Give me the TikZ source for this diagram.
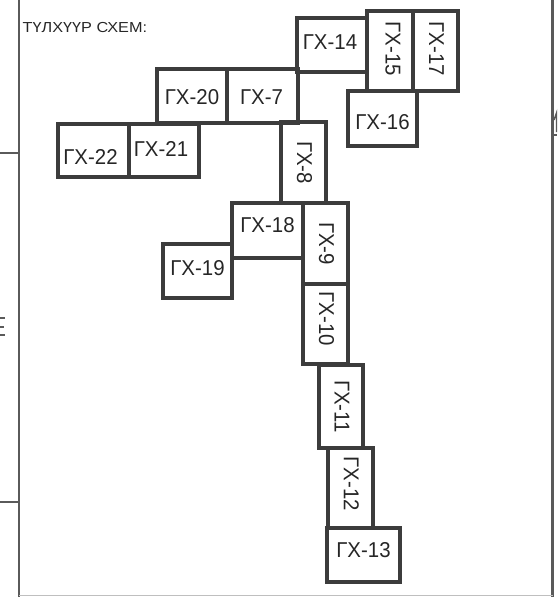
\documentclass[tikz,border=0pt]{standalone}
\usepackage{fontspec}
\setmainfont{Liberation Sans}
\newfontfamily\cadfont[FakeStretch=0.95]{Liberation Sans}
\newfontfamily\titlefont[FakeStretch=1.12]{Liberation Sans}
\definecolor{boxc}{HTML}{3C3C3C}
\definecolor{framec}{HTML}{5A5A5A}
\definecolor{textc}{HTML}{262626}
\begin{document}
\begin{tikzpicture}[x=1pt,y=-1pt,
  gbox/.style={draw=boxc, line width=3.3pt, rectangle, inner sep=0pt, outer sep=0pt},
  lab/.style={inner sep=0pt, text=textc, font=\cadfont\fontsize{21.5}{21.5}\selectfont},
  vlab/.style={lab, rotate=-90},
  framel/.style={draw=framec, line width=2.4pt},
  thinl/.style={draw=framec, line width=1.4pt}]
\useasboundingbox (0,0) rectangle (557,597);
% frame
\draw[framel] (19,0) -- (19,597);
\draw[framel] (552.5,0) -- (552.5,597);
\draw[thinl] (0,153) -- (19,153);
\draw[thinl] (0,502) -- (19,502);
\draw[draw=black!25, line width=1pt] (19,595.5) -- (552.5,595.5);
\draw[thinl] (553,135) -- (557,135);
\draw[thinl] (554,120) -- (556.5,113) -- (556.5,132);
\draw[thinl] (0,318) -- (5,318);
\draw[thinl] (0,327) -- (4,327);
\draw[thinl] (0,335) -- (5,335);
% title
\node[inner sep=0pt, anchor=west, text=textc, font=\titlefont\fontsize{14.5}{14.5}\selectfont] (title) at (22.5,28) {ТҮЛХҮҮР СХЕМ:};
% boxes
\node[gbox, minimum width=70pt, minimum height=54pt] (b14) at (332,45) {};
\node[gbox, minimum width=46pt, minimum height=80pt] (b15) at (390,51) {};
\node[gbox, minimum width=45pt, minimum height=80pt] (b17) at (435.5,51) {};
\node[gbox, minimum width=69pt, minimum height=55pt] (b16) at (382.5,118.5) {};
\node[gbox, minimum width=70pt, minimum height=54pt] (b20) at (192,96) {};
\node[gbox, minimum width=71pt, minimum height=54pt] (b7) at (262.5,96) {};
\node[gbox, minimum width=71pt, minimum height=53pt] (b22) at (93.5,150.5) {};
\node[gbox, minimum width=70pt, minimum height=53pt] (b21) at (164,150.5) {};
\node[gbox, minimum width=45pt, minimum height=81pt] (b8) at (303.5,162.5) {};
\node[gbox, minimum width=71pt, minimum height=55pt] (b18) at (267.5,230.5) {};
\node[gbox, minimum width=45pt, minimum height=81pt] (b9) at (325.5,243.5) {};
\node[gbox, minimum width=69pt, minimum height=54pt] (b19) at (197.5,271) {};
\node[gbox, minimum width=45pt, minimum height=80pt] (b10) at (325.5,324) {};
\node[gbox, minimum width=44pt, minimum height=83pt] (b11) at (341,406.5) {};
\node[gbox, minimum width=45pt, minimum height=80pt] (b12) at (350.5,488) {};
\node[gbox, minimum width=73pt, minimum height=54pt] (b13) at (363.5,555) {};
% labels
\node[lab] (t14) at ([xshift=-2pt,yshift=3pt]b14.center) {ГХ-14};
\node[vlab] (t15) at ([xshift=3pt,yshift=2pt]b15.center) {ГХ-15};
\node[vlab] (t17) at ([xshift=1pt,yshift=2pt]b17.center) {ГХ-17};
\node[lab] (t16) at ([yshift=-4pt]b16.center) {ГХ-16};
\node[lab] (t20) at ([yshift=-1pt]b20.center) {ГХ-20};
\node[lab] (t7) at ([xshift=-1pt,yshift=-1pt]b7.center) {ГХ-7};
\node[lab] (t22) at ([xshift=-3pt,yshift=-6pt]b22.center) {ГХ-22};
\node[lab] (t21) at ([xshift=-3pt,yshift=1.5pt]b21.center) {ГХ-21};
\node[vlab] (t8) at ([xshift=1pt]b8.center) {ГХ-8};
\node[lab] (t18) at ([yshift=5pt]b18.center) {ГХ-18};
\node[vlab] (t9) at ([xshift=1pt]b9.center) {ГХ-9};
\node[lab] (t19) at ([yshift=2.5pt]b19.center) {ГХ-19};
\node[vlab] (t10) at ([xshift=1pt,yshift=5pt]b10.center) {ГХ-10};
\node[vlab] (t11) at ([xshift=1pt]b11.center) {ГХ-11};
\node[vlab] (t12) at ([xshift=1pt,yshift=4pt]b12.center) {ГХ-12};
\node[lab] (t13) at ([yshift=5pt]b13.center) {ГХ-13};
\end{tikzpicture}
\end{document}
